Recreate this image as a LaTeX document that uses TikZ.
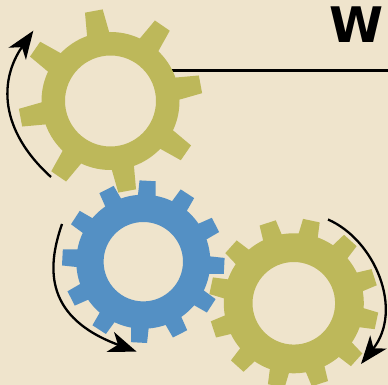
\documentclass[tikz,border=0pt]{standalone}
\usepackage{fontspec}
\usepackage{xcolor}
\usetikzlibrary{arrows.meta}
\newfontfamily\wfont[BoldFont={DejaVu Sans Bold}]{DejaVu Sans}
\definecolor{Paper}{HTML}{EFE4CC}
\definecolor{Olive}{HTML}{BDB85A}
\definecolor{GearBlue}{HTML}{5490C4}
\tikzset{
  axle/.style={draw=black,line width=2.1pt},
  turn/.style={-{Stealth[length=28pt,width=21pt,inset=8pt]},draw=black,line width=2.3pt},
  letter/.style={inner sep=0pt,font=\wfont\bfseries\fontsize{49}{52}\selectfont}
}
% center, colour, hole r, rim r, tip r, first tooth, tooth spacing, half base, half tip
\newcommand{\gearwheel}[9]{
  \begin{scope}[shift={#1}]
    \foreach \a in {0,#7,...,359}{
      \fill[#2,rotate=#6+\a] (#4-4,-#8) -- (#5,-#9) -- (#5,#9) -- (#4-4,#8) -- cycle;
    }
    \fill[#2,even odd rule] (0,0) circle (#4) (0,0) circle (#3);
  \end{scope}
}

\begin{document}
\begin{tikzpicture}[x=1pt,y=1pt]
  \useasboundingbox (0,0) rectangle (388,385);
  \fill[Paper] (0,0) rectangle (388,385);
  \clip (0,0) rectangle (388,385);
  \coordinate (axlestart) at (150,314.5);
  \coordinate (axleend) at (388,314.5);
  \draw[axle] (axlestart) -- (axleend);
  \gearwheel{(110.5,284)}{Olive}{45.5}{69}{91.5}{10.5}{45}{11.5}{9}
  \gearwheel{(143.3,123.3)}{GearBlue}{39.7}{67}{81}{-3}{30}{9}{8}
  \gearwheel{(293.8,81.7)}{Olive}{41.3}{70}{84.5}{18}{30}{10}{8.5}
  \draw[turn] (51,208) .. controls (-1,255) and (-1,305) .. (33.3,354.3);
  \draw[turn] (62,161) .. controls (46,115) and (46,67) .. (136.7,33.3);
  \draw[turn] (328,165.5) .. controls (375,145) and (404,75) .. (361,21);
  \node[letter] (title) at (357,360) {W};
\end{tikzpicture}
\end{document}
